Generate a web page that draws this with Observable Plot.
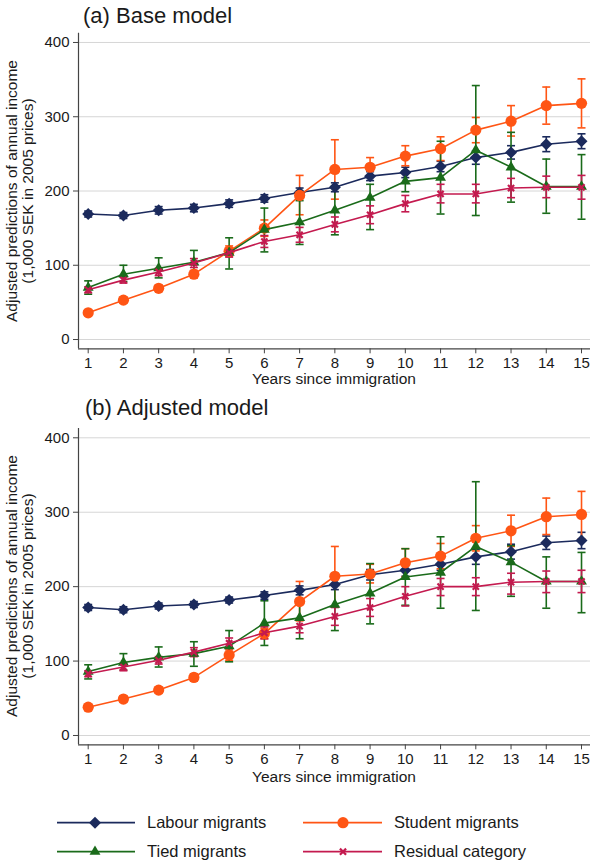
<!DOCTYPE html>
<html>
<head>
<meta charset="utf-8">
<script src="https://cdn.jsdelivr.net/npm/d3@7"></script>
<script src="https://cdn.jsdelivr.net/npm/@observablehq/plot@0.6"></script>
<style>
  html, body { margin: 0; padding: 0; background: #fff; }
  body { font-family: "Liberation Sans", Arial, Helvetica, sans-serif; color: #1a1a1a; }
  #wrap { position: relative; width: 597px; height: 865px; overflow: hidden; }
  .abs { position: absolute; white-space: nowrap; }
  .title { font-size: 22px; line-height: 22px; }
  .xlab { font-size: 15.5px; line-height: 16px; transform: translateX(-50%); }
  .ylab { font-size: 15.5px; line-height: 16px; transform-origin: 0 0; transform: rotate(-90deg) translateX(-50%); text-align: center; }
  .leg { font-size: 16.5px; line-height: 18px; }
</style>
</head>
<body>
<div id="wrap"></div>
<script>
// ---------- data ----------
const years = [1, 2, 3, 4, 5, 6, 7, 8, 9, 10, 11, 12, 13, 14, 15];
const seriesNames = ["Labour migrants", "Student migrants", "Tied migrants", "Residual category"];
const panelTitles = ["(a) Base model", "(b) Adjusted model"];
const yTicks = [0, 100, 200, 300, 400];
const xLabel = "Years since immigration";
const yLabelLines = ["Adjusted predictions of annual income", "(1,000 SEK in 2005 prices)"];

// Panel (a) Base model
const labourA    = [169, 167, 174, 177, 183, 190, 198, 205, 220, 225, 233, 245, 252, 263, 267];
const labourALo  = [165, 163, 169, 172, 178, 185, 192, 199, 214, 218, 226, 236, 243, 253, 257];
const labourAHi  = [173, 171, 179, 182, 188, 195, 204, 211, 226, 232, 240, 254, 261, 273, 277];
const studentA   = [36, 53, 69, 88, 119, 150, 194, 229, 232, 247, 257, 282, 294, 315, 318];
const studentALo = [33, 49, 65, 83, 112, 139, 168, 189, 219, 234, 241, 265, 274, 290, 285];
const studentAHi = [39, 57, 73, 93, 126, 161, 221, 269, 245, 261, 273, 299, 315, 340, 351];
const tiedA      = [70, 88, 96, 104, 117, 148, 158, 174, 191, 213, 218, 255, 232, 206, 206];
const tiedALo    = [61, 78, 83, 88, 95, 118, 128, 141, 148, 199, 169, 167, 185, 170, 162];
const tiedAHi    = [79, 100, 110, 120, 137, 177, 187, 207, 209, 227, 267, 342, 279, 243, 249];
const residA     = [67, 80, 91, 103, 117, 132, 141, 155, 168, 183, 196, 196, 204, 205, 205];
const residALo   = [63, 76, 86, 97, 111, 124, 131, 145, 156, 172, 184, 184, 191, 191, 189];
const residAHi   = [71, 84, 96, 109, 123, 140, 151, 165, 180, 194, 209, 209, 217, 220, 221];

// Panel (b) Adjusted model
const labourB    = [172, 169, 174, 176, 182, 188, 195, 203, 216, 222, 230, 240, 247, 259, 262];
const labourBLo  = [168, 165, 170, 172, 178, 183, 189, 196, 209, 214, 222, 230, 237, 250, 251];
const labourBHi  = [176, 173, 178, 180, 186, 193, 201, 210, 223, 230, 238, 250, 257, 268, 273];
const studentB   = [38, 49, 61, 78, 108, 137, 180, 214, 217, 232, 241, 265, 275, 294, 297];
const studentBLo = [35, 45, 57, 73, 101, 130, 154, 173, 205, 213, 224, 248, 254, 270, 264];
const studentBHi = [41, 53, 65, 83, 115, 144, 207, 254, 230, 251, 258, 282, 296, 319, 328];
const tiedB      = [86, 98, 105, 110, 120, 151, 158, 176, 191, 213, 219, 254, 233, 207, 207];
const tiedBLo    = [76, 88, 92, 93, 99, 121, 130, 141, 150, 175, 171, 168, 187, 171, 165];
const tiedBHi    = [95, 110, 119, 126, 141, 181, 195, 211, 231, 251, 267, 341, 255, 240, 246];
const residB     = [83, 92, 101, 112, 124, 138, 147, 160, 172, 187, 200, 200, 206, 207, 207];
const residBLo   = [79, 87, 96, 106, 117, 130, 138, 148, 160, 174, 188, 188, 190, 192, 192];
const residBHi   = [87, 97, 106, 118, 131, 146, 156, 172, 184, 200, 211, 212, 218, 221, 222];

// ---------- styles ----------
const colors  = ["#1b2a5c", "#ff5514", "#1a6b1a", "#c41a4f"];
const symbols = ["diamond2", "circle", "triangle2", "times"];
const symR    = [5.4, 5.6, 5.2, 2.9];
const xDomain = [0.725, 15.255];
const yDomain = [-12.5, 412.5];

const capSymbol = {
  draw(ctx, size) {
    const r = Math.sqrt(size / Math.PI);
    ctx.moveTo(-r, 0);
    ctx.lineTo(r, 0);
  }
};

function rows(vals, lo, hi, s) {
  return years.map((yr, i) => ({year: yr, value: vals[i], lo: lo[i], hi: hi[i], series: seriesNames[s]}));
}

const panelA = [
  rows(labourA, labourALo, labourAHi, 0),
  rows(studentA, studentALo, studentAHi, 1),
  rows(tiedA, tiedALo, tiedAHi, 2),
  rows(residA, residALo, residAHi, 3)
];
const panelB = [
  rows(labourB, labourBLo, labourBHi, 0),
  rows(studentB, studentBLo, studentBHi, 1),
  rows(tiedB, tiedBLo, tiedBHi, 2),
  rows(residB, residBLo, residBHi, 3)
];

function makePanel(data, marginTop, marginBottom, height) {
  const marks = [
    Plot.gridY(yTicks, {stroke: "#d6d6d6", strokeOpacity: 1, strokeWidth: 1}),
    Plot.ruleX([xDomain[0]], {stroke: "#444", strokeWidth: 1.2}),
    Plot.ruleY([yDomain[0]], {stroke: "#444", strokeWidth: 1.2}),
    Plot.axisY(yTicks, {tickSize: 5, tickPadding: 4, fontSize: 15, stroke: "#444", fill: "#1a1a1a", label: null}),
    Plot.axisX(years, {tickSize: 5, tickPadding: 4, fontSize: 15, stroke: "#444", fill: "#1a1a1a", label: null})
  ];
  data.forEach((d, s) => {
    marks.push(
      Plot.ruleX(d, {x: "year", y1: "lo", y2: "hi", stroke: colors[s], strokeWidth: 1.6}),
      Plot.dot(d, {x: "year", y: "lo", symbol: capSymbol, r: 4, fill: "none", stroke: colors[s], strokeWidth: 1.6}),
      Plot.dot(d, {x: "year", y: "hi", symbol: capSymbol, r: 4, fill: "none", stroke: colors[s], strokeWidth: 1.6})
    );
  });
  data.forEach((d, s) => {
    marks.push(Plot.line(d, {x: "year", y: "value", stroke: colors[s], strokeWidth: 1.6}));
    if (symbols[s] === "times") {
      marks.push(Plot.dot(d, {x: "year", y: "value", symbol: "times", r: symR[s], fill: "none", stroke: colors[s], strokeWidth: 2.2}));
    } else {
      marks.push(Plot.dot(d, {x: "year", y: "value", symbol: symbols[s], r: symR[s], fill: colors[s], stroke: "none"}));
    }
  });
  return Plot.plot({
    width: 597,
    height,
    marginTop,
    marginBottom,
    marginLeft: 78,
    marginRight: 7,
    style: {fontFamily: "Liberation Sans, Arial, sans-serif", fontSize: "15px", background: "white", overflow: "visible"},
    x: {type: "linear", domain: xDomain, axis: null},
    y: {type: "linear", domain: yDomain, axis: null},
    marks
  });
}

const wrap = document.getElementById("wrap");

function place(el, top) {
  el.style.position = "absolute";
  el.style.left = "0px";
  el.style.top = top + "px";
  wrap.appendChild(el);
}

// Panel A: axis from y=32.7 to 348.3
const svgA = makePanel(panelA, 32.7, 400 - 348.3, 400);
place(svgA, 0);
// Panel B: axis from y=428 to 744.3 (svg placed at 400)
const svgB = makePanel(panelB, 28, 400 - 344.3, 400);
place(svgB, 400);

function addText(cls, text, left, top) {
  const d = document.createElement("div");
  d.className = "abs " + cls;
  d.textContent = text;
  d.style.left = left + "px";
  d.style.top = top + "px";
  wrap.appendChild(d);
  return d;
}

// titles
addText("title", panelTitles[0], 83, 5);
addText("title", panelTitles[1], 85, 397);
// x labels
addText("xlab", xLabel, 334, 371);
addText("xlab", xLabel, 334, 769);
// y labels (two lines each), rotated
[[190.5, 0], [586, 0]].forEach(([cy]) => {
  addText("ylab", yLabelLines[0], 4, cy);
  addText("ylab", yLabelLines[1], 20, cy);
});

// legend
const legendPos = [
  {x0: 57, x1: 135, mx: 95, tx: 147, y: 822.7},
  {x0: 303, x1: 382, mx: 343, tx: 394, y: 822.7},
  {x0: 57, x1: 135, mx: 95, tx: 147, y: 851.7},
  {x0: 303, x1: 382, mx: 343, tx: 394, y: 851.7}
];
const legSvg = d3.create("svg").attr("width", 597).attr("height", 865)
  .style("position", "absolute").style("left", "0px").style("top", "0px").style("pointer-events", "none");
const symMap = {diamond2: d3.symbolDiamond2, circle: d3.symbolCircle, triangle2: d3.symbolTriangle2, times: d3.symbolTimes};
seriesNames.forEach((name, s) => {
  const p = legendPos[s];
  legSvg.append("line").attr("x1", p.x0).attr("x2", p.x1).attr("y1", p.y).attr("y2", p.y)
    .attr("stroke", colors[s]).attr("stroke-width", 1.8);
  const path = d3.symbol(symMap[symbols[s]], Math.PI * symR[s] * symR[s])();
  const g = legSvg.append("path").attr("d", path).attr("transform", `translate(${p.mx},${p.y})`);
  if (symbols[s] === "times") g.attr("fill", "none").attr("stroke", colors[s]).attr("stroke-width", 2.2);
  else g.attr("fill", colors[s]);
});
wrap.appendChild(legSvg.node());
seriesNames.forEach((name, s) => {
  const p = legendPos[s];
  addText("leg", name, p.tx, p.y - 9.5);
});
</script>
</body>
</html>
